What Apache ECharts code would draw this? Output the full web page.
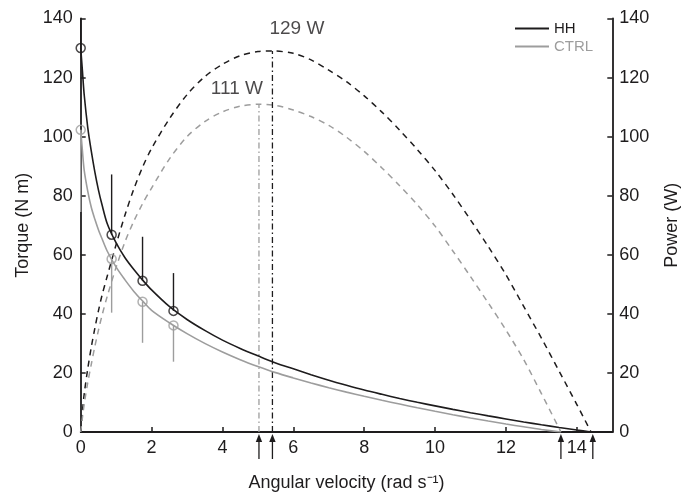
<!DOCTYPE html>
<html>
<head>
<meta charset="utf-8">
<script src="https://cdn.jsdelivr.net/npm/echarts/dist/echarts.min.js"></script>
<style>
html,body{margin:0;padding:0;background:#fff;}
#chart{width:693px;height:497px;}
</style>
</head>
<body>
<div id="chart"></div>
<script>
// ---- data ----
const seriesNames = ['HH', 'CTRL'];
const hhTorque = [[0,130],[0.05,122],[0.1,114],[0.2,103],[0.3,95],[0.4,88],[0.5,82],[0.6,77],[0.75,70.5],[1.0,64],[1.25,59],[1.5,55],[1.75,51.4],[2.0,48.1],[2.5,42.5],[3.0,38.1],[3.5,34.4],[4.0,31.1],[4.5,28.3],[5.0,25.8],[5.5,23.4],[6.0,21.4],[6.5,19.4],[7.0,17.5],[7.5,15.8],[8.0,14.2],[8.5,12.75],[9.0,11.35],[9.5,10.05],[10.0,8.85],[10.5,7.67],[11.0,6.53],[11.5,5.46],[12.0,4.43],[12.5,3.4],[13.0,2.45],[13.5,1.53],[14.0,0.66],[14.4,0]];
const ctrlTorque = [[0,102.3],[0.05,95],[0.1,88.5],[0.2,81.5],[0.3,76],[0.4,72],[0.5,68.5],[0.6,65.5],[0.75,61.2],[1.0,55.8],[1.25,51.5],[1.5,47.6],[1.75,44.3],[2.0,41.2],[2.5,37.0],[3.0,33.3],[3.5,30.0],[4.0,27.1],[4.5,24.5],[5.0,22.2],[5.5,20.1],[6.0,18.3],[6.5,16.6],[7.0,15.0],[7.5,13.5],[8.0,12.1],[8.5,10.75],[9.0,9.45],[9.5,8.2],[10.0,7.0],[10.5,5.85],[11.0,4.75],[11.5,3.7],[12.0,2.7],[12.5,1.75],[13.0,0.85],[13.55,0]];
const hhPower = [[0,0],[0.05,7],[0.1,13],[0.2,21.5],[0.3,28.8],[0.4,35.2],[0.5,41],[0.6,46.2],[0.75,52.8],[1.0,63.5],[1.25,73.5],[1.5,82.3],[1.75,89.8],[2.0,96],[2.5,106],[3.0,114.2],[3.5,120.3],[4.0,124.5],[4.5,127.4],[5.0,128.8],[5.41,129],[6.0,128.2],[6.5,126],[7.0,122.5],[7.5,118.6],[8.0,113.8],[8.5,108.3],[9.0,102.2],[9.5,95.6],[10.0,88.5],[10.5,80.5],[11.0,71.8],[11.5,62.8],[12.0,53.2],[12.5,42.5],[13.0,31.8],[13.5,20.6],[14.0,9.3],[14.4,0]];
const ctrlPower = [[0,0],[0.05,5],[0.1,9.5],[0.2,16.8],[0.3,23],[0.4,29],[0.5,34.4],[0.6,39.4],[0.75,46],[1.0,55.8],[1.25,64.4],[1.5,71.4],[1.75,77.4],[2.0,82.6],[2.5,92.4],[3.0,100],[3.5,105.1],[4.0,108.4],[4.5,110.3],[5.03,111],[5.5,110.6],[6.0,109],[6.5,106.8],[7.0,103.8],[7.5,99.8],[8.0,95.0],[8.5,89.4],[9.0,83.4],[9.5,76.9],[10.0,69.7],[10.5,61.3],[11.0,52.6],[11.5,43.7],[12.0,34.5],[12.5,24.5],[13.0,13.0],[13.55,0]];
const velocities = [0, 0.873, 1.745, 2.618];
const hhMean = [130, 66.8, 51.2, 41];
const hhErrTop = [140, 87.2, 66.1, 53.8];
const ctrlMean = [102.3, 58.6, 44.1, 36.1];
const ctrlErrBottom = [74.5, 40.4, 30.2, 23.8];
const peakHH = [5.41, 129];
const peakCTRL = [5.03, 111];
const peakLabels = ['129 W', '111 W'];
const arrowX = [5.03, 5.41, 13.55, 14.45];

const BLACK = '#1e1c1d';
const GRAY = '#9d9d9d';
const FONT = 'Liberation Sans, Arial, Helvetica, sans-serif';

function errBar(color) {
  return function (params, api) {
    const a = api.coord([api.value(0), api.value(1)]);
    const b = api.coord([api.value(0), api.value(2)]);
    return {type: 'line', shape: {x1: a[0], y1: a[1], x2: b[0], y2: b[1]},
      style: {stroke: color, lineWidth: 1.4}};
  };
}

const chart = echarts.init(document.getElementById('chart'), null, {renderer: 'canvas'});

const axisCommon = {
  axisLine: {show: true, lineStyle: {color: BLACK, width: 1.8}},
  axisTick: {show: true, inside: true, length: 5, lineStyle: {color: BLACK, width: 1.5}},
  axisLabel: {color: BLACK, fontSize: 18, fontFamily: FONT},
  splitLine: {show: false},
  nameTextStyle: {color: BLACK, fontSize: 18, fontFamily: FONT}
};

chart.setOption({
  animation: false,
  backgroundColor: '#fff',
  grid: {left: 80.7, right: 80.7, top: 18.5, bottom: 62, containLabel: false},
  legend: {
    orient: 'vertical', left: 510, top: 16, itemWidth: 34, itemHeight: 2, itemGap: 3,
    icon: 'rect',
    data: [
      {name: 'HH', textStyle: {color: BLACK}},
      {name: 'CTRL', textStyle: {color: GRAY}}
    ],
    textStyle: {fontSize: 15, fontFamily: FONT}
  },
  xAxis: Object.assign({}, axisCommon, {
    type: 'value', min: 0, max: 15, interval: 2,
    name: 'Angular velocity (rad s\u207B\u00B9)', nameLocation: 'middle', nameGap: 42,
    axisLabel: Object.assign({}, axisCommon.axisLabel, {margin: 7, showMaxLabel: false})
  }),
  yAxis: [
    Object.assign({}, axisCommon, {
      type: 'value', min: 0, max: 140, interval: 20, position: 'left',
      name: 'Torque (N m)', nameLocation: 'middle', nameGap: 49, nameRotate: 90,
      axisLabel: Object.assign({}, axisCommon.axisLabel, {margin: 8})
    }),
    Object.assign({}, axisCommon, {
      type: 'value', min: 0, max: 140, interval: 20, position: 'right',
      name: 'Power (W)', nameLocation: 'middle', nameGap: 51, nameRotate: 90,
      axisLabel: Object.assign({}, axisCommon.axisLabel, {margin: 7})
    })
  ],
  series: [
    {name: 'HH', type: 'line', yAxisIndex: 0, data: hhTorque, smooth: 0.3,
      symbol: 'none', lineStyle: {color: BLACK, width: 1.6}, itemStyle: {color: BLACK}, z: 3},
    {name: 'CTRL', type: 'line', yAxisIndex: 0, data: ctrlTorque, smooth: 0.3,
      symbol: 'none', lineStyle: {color: GRAY, width: 1.6}, itemStyle: {color: GRAY}, z: 3},
    {name: 'HH power', type: 'line', yAxisIndex: 1, data: hhPower, smooth: 0.3,
      symbol: 'none', lineStyle: {color: BLACK, width: 1.5, type: [6, 5]}, z: 2},
    {name: 'CTRL power', type: 'line', yAxisIndex: 1, data: ctrlPower, smooth: 0.3,
      symbol: 'none', lineStyle: {color: GRAY, width: 1.5, type: [6, 5]}, z: 2},
    {name: 'HH peak', type: 'line', yAxisIndex: 1, data: [[peakHH[0], 0], peakHH],
      symbol: 'none', lineStyle: {color: BLACK, width: 1.3, type: [6, 3, 1.5, 3]}, z: 2},
    {name: 'CTRL peak', type: 'line', yAxisIndex: 1, data: [[peakCTRL[0], 0], peakCTRL],
      symbol: 'none', lineStyle: {color: GRAY, width: 1.3, type: [6, 3, 1.5, 3]}, z: 2},
    {name: 'peak labels', type: 'scatter', yAxisIndex: 1, symbolSize: 1,
      itemStyle: {color: 'rgba(0,0,0,0)'}, z: 5,
      data: [
        {value: peakHH, label: {show: true, formatter: peakLabels[0], position: 'top', align: 'left',
          offset: [-3, -7], fontSize: 19, color: BLACK, fontFamily: FONT}},
        {value: peakCTRL, label: {show: true, formatter: peakLabels[1], position: 'top', align: 'right',
          offset: [4, 0], fontSize: 19, color: BLACK, fontFamily: FONT}}
      ]},
    {name: 'HH err', type: 'custom', yAxisIndex: 0, z: 4, clip: false,
      data: velocities.map((v, i) => [v, hhMean[i], hhErrTop[i]]),
      encode: {x: 0, y: [1, 2]}, renderItem: errBar(BLACK)},
    {name: 'CTRL err', type: 'custom', yAxisIndex: 0, z: 4, clip: false,
      data: velocities.map((v, i) => [v, ctrlMean[i], ctrlErrBottom[i]]),
      encode: {x: 0, y: [1, 2]}, renderItem: errBar(GRAY)},
    {name: 'HH pts', type: 'scatter', yAxisIndex: 0, symbol: 'circle', symbolSize: 9, z: 6,
      data: velocities.map((v, i) => [v, hhMean[i]]),
      itemStyle: {color: 'rgba(255,255,255,0)', borderColor: BLACK, borderWidth: 1.5}},
    {name: 'CTRL pts', type: 'scatter', yAxisIndex: 0, symbol: 'circle', symbolSize: 9, z: 6,
      data: velocities.map((v, i) => [v, ctrlMean[i]]),
      itemStyle: {color: 'rgba(255,255,255,0)', borderColor: GRAY, borderWidth: 1.5}},
    {name: 'arrows', type: 'custom', yAxisIndex: 0, z: 7, clip: false,
      data: arrowX.map(x => [x, 0]),
      renderItem: function (params, api) {
        const p = api.coord([api.value(0), 0]);
        const x = p[0], y = p[1];
        return {type: 'group', children: [
          {type: 'line', shape: {x1: x, y1: y + 27, x2: x, y2: y + 6},
            style: {stroke: BLACK, lineWidth: 1.3}},
          {type: 'polygon', shape: {points: [[x, y + 2], [x - 3.2, y + 10], [x + 3.2, y + 10]]},
            style: {fill: BLACK}}
        ]};
      }}
  ]
});
</script>
</body>
</html>
